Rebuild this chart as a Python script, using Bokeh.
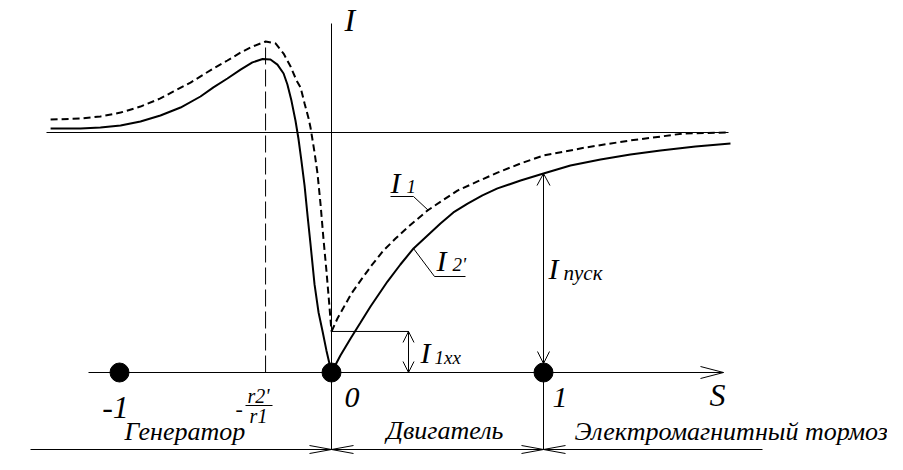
from bokeh.plotting import figure
from bokeh.models import Range1d
from bokeh.core.properties import value
from bokeh.embed import file_html
from bokeh.resources import INLINE

# ---------------- data (S = slip, I = current, I∞ = 1) ----------------
# generator branch (S < 0)
s_gen_i2 = [-1.325, -1.184, -1.090, -0.995, -0.901, -0.807, -0.712, -0.618, -0.557,
            -0.491, -0.429, -0.373, -0.325, -0.288, -0.255, -0.226, -0.208, -0.189,
            -0.170, -0.156, -0.142, -0.127, -0.113, -0.099, -0.080, -0.061, -0.042,
            -0.024, 0.0]
i2_gen = [1.017, 1.017, 1.021, 1.029, 1.046, 1.071, 1.104, 1.150, 1.188,
          1.225, 1.262, 1.292, 1.306, 1.304, 1.283, 1.246, 1.200, 1.133,
          1.050, 0.975, 0.883, 0.779, 0.654, 0.535, 0.367, 0.250, 0.171,
          0.092, 0.0]

s_gen_i1 = [-1.325, -1.184, -1.090, -0.995, -0.901, -0.807, -0.745, -0.665, -0.557,
            -0.491, -0.429, -0.373, -0.311, -0.264, -0.226, -0.193, -0.165, -0.146,
            -0.127, -0.108, -0.099, -0.080, -0.066, -0.052, -0.038, -0.024, -0.012,
            0.0]
i1_gen = [1.054, 1.058, 1.067, 1.083, 1.108, 1.142, 1.171, 1.208, 1.267,
          1.300, 1.333, 1.358, 1.379, 1.371, 1.329, 1.275, 1.217, 1.188,
          1.121, 1.058, 1.021, 0.917, 0.829, 0.704, 0.558, 0.425, 0.300,
          0.171]

# motor / brake branch (S > 0)
s_mot_i2 = [0.0, 0.042, 0.090, 0.137, 0.184, 0.264, 0.325, 0.387, 0.453, 0.514,
            0.575, 0.642, 0.712, 0.783, 0.892, 1.0, 1.127, 1.269, 1.410, 1.552,
            1.717, 1.882]
i2_mot = [0.0, 0.071, 0.142, 0.208, 0.275, 0.379, 0.450, 0.517, 0.571, 0.621,
          0.667, 0.704, 0.738, 0.767, 0.800, 0.829, 0.8625, 0.8875, 0.908, 0.925,
          0.942, 0.954]

s_mot_i1 = [0.0, 0.028, 0.057, 0.094, 0.137, 0.189, 0.245, 0.302, 0.358, 0.453,
            0.524, 0.594, 0.689, 0.783, 0.892, 1.0, 1.198, 1.410, 1.552, 1.660,
            1.873]
i1_mot = [0.171, 0.225, 0.271, 0.329, 0.383, 0.446, 0.508, 0.558, 0.604, 0.675,
          0.717, 0.758, 0.796, 0.833, 0.871, 0.904, 0.9375, 0.967, 0.983, 0.996,
          1.0]

s_points = [-1, 0, 1]
s_point_labels = ["-1", "0", "1"]
region_labels = ["Генератор", "Двигатель", "Электромагнитный тормоз"]
i_inf = 1.0          # asymptote
s_crit = -0.311      # -r2'/r1
i_1xx = 0.171        # no-load current
i_start = 0.829      # starting current (I2' at S = 1)

# ---------------- layout helpers ----------------
PX_S, PX_I = 212.0, 240.0
OX, OY = 331.0, 372.0          # pixel position of the origin
W, H = 887, 454
FONT_NAME = "Liberation Serif"
BLACK = "#000000"


def sx(px):
    return (px - OX) / PX_S


def iy(py):
    return (OY - py) / PX_I


p = figure(width=W, height=H, output_backend="svg", toolbar_location=None,
           x_range=Range1d(sx(0), sx(W)), y_range=Range1d(iy(H), iy(0)),
           min_border=0, background_fill_color="white", border_fill_color="white")
p.axis.visible = False
p.grid.visible = False
p.outline_line_color = None

i_bottom = iy(449)   # region dimension line
s_dim = sx(408)      # where the I1xx dimension is drawn


def head(ts, ti, ux, uy, L, Wd):
    tx, ty = ts * PX_S, ti * PX_I
    bx, by = tx - ux * L, ty - uy * L
    px_, py_ = -uy, ux
    xs = [(bx + px_ * Wd) / PX_S, ts, (bx - px_ * Wd) / PX_S]
    ys = [(by + py_ * Wd) / PX_I, ti, (by - py_ * Wd) / PX_I]
    return xs, ys


# ---------------- curves ----------------
p.line(s_gen_i2, i2_gen, line_width=2, color=BLACK)
p.line(s_mot_i2, i2_mot, line_width=2, color=BLACK)
p.line(s_gen_i1, i1_gen, line_width=2, color=BLACK, line_dash="7 4")
p.line(s_mot_i1, i1_mot, line_width=2, color=BLACK, line_dash="7 4")

# ---------------- axes & construction lines ----------------
seg_x0, seg_y0, seg_x1, seg_y1 = [], [], [], []


def seg(a, b, c, d):
    seg_x0.append(a); seg_y0.append(b); seg_x1.append(c); seg_y1.append(d)


seg(sx(46), i_inf, sx(728), i_inf)                 # asymptote
seg(sx(88), 0, sx(723), 0)                         # S axis
seg(0, iy(23), 0, i_bottom)                        # I axis
seg(s_points[2], 0, s_points[2], i_bottom)         # S = 1 divider
seg(s_points[2], 0, s_points[2], i_start)          # I_пуск dimension
seg(0, i_1xx, s_dim, i_1xx)                        # I1xx extension
seg(s_dim, 0, s_dim, i_1xx)                        # I1xx dimension
seg(sx(30), i_bottom, sx(762), i_bottom)           # region line
# leaders
seg(sx(390), iy(196), sx(413), iy(196))
seg(sx(413), iy(196), sx(428), iy(210))
seg(sx(434), iy(276), sx(465), iy(276))
seg(sx(434), iy(276), sx(413), iy(248))
# fraction bar
seg(sx(245), iy(405), sx(272), iy(405))
p.segment(seg_x0, seg_y0, seg_x1, seg_y1, line_width=1, color=BLACK)

# dashed vertical at -r2'/r1
p.segment([s_crit], [0], [s_crit], [max(i1_gen)], line_width=1, color=BLACK,
          line_dash="17 5")

# arrow heads
hx, hy = [], []
for args in [
    (sx(723), 0, 1, 0, 23, 6),
    (s_points[2], i_start, 0, 1, 12, 6.5),
    (s_points[2], 9 / PX_I, 0, -1, 12, 6),
    (s_dim, i_1xx, 0, 1, 11, 5.5),
    (s_dim, 0, 0, -1, 11, 5.5),
    (0, i_bottom, 1, 0, 22, 4),
    (0, i_bottom, -1, 0, 22, 4),
    (s_points[2], i_bottom, 1, 0, 22, 4),
    (s_points[2], i_bottom, -1, 0, 22, 4),
]:
    xs, ys = head(*args)
    hx.append(xs); hy.append(ys)
p.multi_line(hx, hy, line_width=1, color=BLACK)

# points on the S axis
p.scatter(s_points, [0, 0, 0], marker="circle", size=19, color=BLACK)


# ---------------- texts ----------------
def txt(x_px, y_px, t, size, align="left"):
    p.text([sx(x_px)], [iy(y_px)], text=[t], text_font=value(FONT_NAME),
           text_font_style="italic", text_font_size=size,
           text_baseline="middle", text_align=align, text_color=BLACK)


txt(344, 19, "I", "32px")
txt(115, 407, s_point_labels[0], "32px", "center")
txt(344, 397, s_point_labels[1], "30px")
txt(552, 397, s_point_labels[2], "30px")
txt(709, 394, "S", "32px")
# -r2'/r1
txt(235, 408, "-", "22px")
txt(258, 395, "r2'", "20px", "center")
txt(258, 415, "r1", "20px", "center")
# curve labels
txt(390, 182, "I", "30px")
txt(406, 186, "1", "19px")
txt(436, 260, "I", "30px")
txt(452, 264, "2'", "19px")
txt(548, 268, "I", "30px")
txt(563, 272, "пуск", "21px")
txt(420, 352, "I", "30px")
txt(434, 357, "1xx", "19px")
# regions
txt(124, 431, region_labels[0], "26px")
txt(386, 430, region_labels[1], "26px")
txt(574, 431, region_labels[2], "26px")

open("out.html", "w").write(file_html(p, INLINE))
